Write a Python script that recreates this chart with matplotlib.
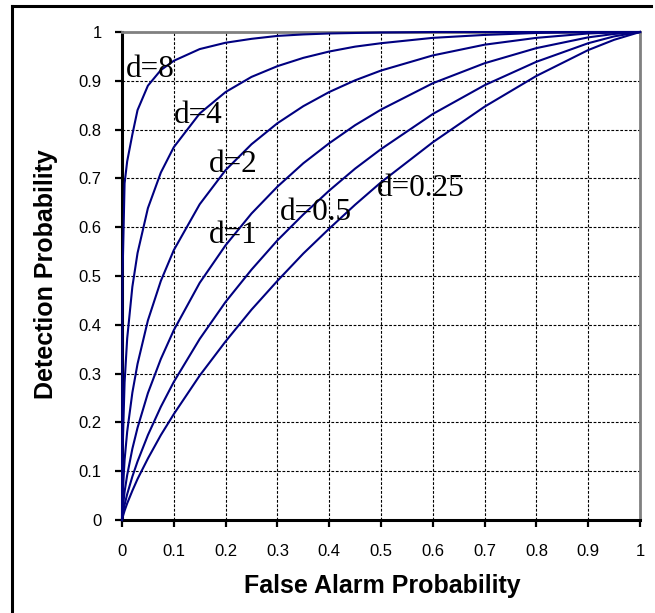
import matplotlib
matplotlib.use("Agg")
import matplotlib.pyplot as plt
from matplotlib.lines import Line2D

# false alarm probabilities shared by all curves
fa = [0, 0.001, 0.005, 0.01, 0.02, 0.03, 0.05, 0.075, 0.1, 0.15, 0.2, 0.25,
      0.3, 0.35, 0.4, 0.45, 0.5, 0.6, 0.7, 0.8, 0.9, 0.95, 1.0]

# detection probability for each d
pd_d8 = [0, 0.50, 0.69, 0.735, 0.79, 0.84, 0.89, 0.922, 0.941, 0.965, 0.978, 0.986,
         0.992, 0.995, 0.997, 0.998, 0.999, 1.0, 1.0, 1.0, 1.0, 1.0, 1.0]
pd_d4 = [0, 0.138, 0.282, 0.372, 0.478, 0.547, 0.639, 0.712, 0.764, 0.833, 0.877, 0.908,
         0.930, 0.947, 0.960, 0.970, 0.977, 0.988, 0.994, 0.998, 1.0, 1.0, 1.0]
pd_d2 = [0, 0.047, 0.123, 0.181, 0.261, 0.320, 0.409, 0.490, 0.553, 0.647, 0.717, 0.770,
         0.813, 0.848, 0.877, 0.901, 0.921, 0.952, 0.974, 0.988, 0.997, 0.999, 1.0]
pd_d1 = [0, 0.018, 0.058, 0.092, 0.146, 0.189, 0.260, 0.330, 0.389, 0.486, 0.563, 0.628,
         0.683, 0.731, 0.772, 0.809, 0.841, 0.895, 0.936, 0.967, 0.989, 0.996, 1.0]
pd_d05 = [0, 0.009, 0.031, 0.053, 0.089, 0.120, 0.174, 0.232, 0.283, 0.371, 0.447, 0.513,
          0.573, 0.626, 0.675, 0.720, 0.760, 0.832, 0.891, 0.939, 0.977, 0.991, 1.0]
pd_d025 = [0, 0.005, 0.019, 0.034, 0.060, 0.084, 0.126, 0.174, 0.217, 0.296, 0.366, 0.431,
           0.490, 0.546, 0.597, 0.646, 0.692, 0.774, 0.847, 0.910, 0.963, 0.984, 1.0]

curves = [pd_d8, pd_d4, pd_d2, pd_d1, pd_d05, pd_d025]
labels = ["d=8", "d=4", "d=2", "d=1", "d=0.5", "d=0.25"]
label_pos = [(0.008, 0.907), (0.100, 0.813), (0.167, 0.714),
             (0.167, 0.567), (0.305, 0.615), (0.492, 0.663)]

ticks = [0, 0.1, 0.2, 0.3, 0.4, 0.5, 0.6, 0.7, 0.8, 0.9, 1]
tick_labels = ["0", "0.1", "0.2", "0.3", "0.4", "0.5", "0.6", "0.7", "0.8", "0.9", "1"]

plt.rcParams["font.family"] = ["Liberation Sans", "DejaVu Sans"]

fig = plt.figure(figsize=(6.55, 6.13), dpi=100)
ax = fig.add_axes([122 / 655, 93 / 613, 518 / 655, 488 / 613])

for pd in curves:
    ax.plot(fa, pd, color="#000080", lw=1.5, zorder=3, clip_on=False)

for txt, (x, y) in zip(labels, label_pos):
    ax.text(x, y, txt, family="Liberation Serif", fontsize=22.5,
            ha="left", va="baseline", zorder=4)

ax.set_xlim(0, 1)
ax.set_ylim(0, 1)
ax.set_xticks(ticks)
ax.set_xticklabels(tick_labels)
ax.set_yticks(ticks)
ax.set_yticklabels(tick_labels)
ax.grid(True, color="black", lw=0.8, linestyle=(0, (2.5, 1.5)))
ax.set_axisbelow(True)

ax.tick_params(axis="x", direction="out", length=5, width=1.6, pad=12, labelsize=12)
ax.tick_params(axis="y", direction="out", length=5, width=1.6, pad=9.5, labelsize=12)

for side in ("left", "bottom"):
    ax.spines[side].set_color("black")
    ax.spines[side].set_linewidth(2.2)
for side in ("top", "right"):
    ax.spines[side].set_color("#808080")
    ax.spines[side].set_linewidth(2.0)

fig.text(382 / 655, 1 - 593 / 613, "False Alarm Probability", fontsize=18,
         fontweight="bold", ha="center", va="baseline")
fig.text(46 / 655, 1 - 274 / 613, "Detection Probability", fontsize=18,
         fontweight="bold", ha="center", va="center", rotation=90)

# frame around the chart
fig.add_artist(Line2D([11.5 / 655, 11.5 / 655], [0, 1 - 5.5 / 613],
                      color="black", lw=2.2, transform=fig.transFigure))
fig.add_artist(Line2D([11.5 / 655, 651 / 655], [1 - 5.5 / 613, 1 - 5.5 / 613],
                      color="black", lw=2.2, transform=fig.transFigure))

fig.savefig("out.png", dpi=100)
